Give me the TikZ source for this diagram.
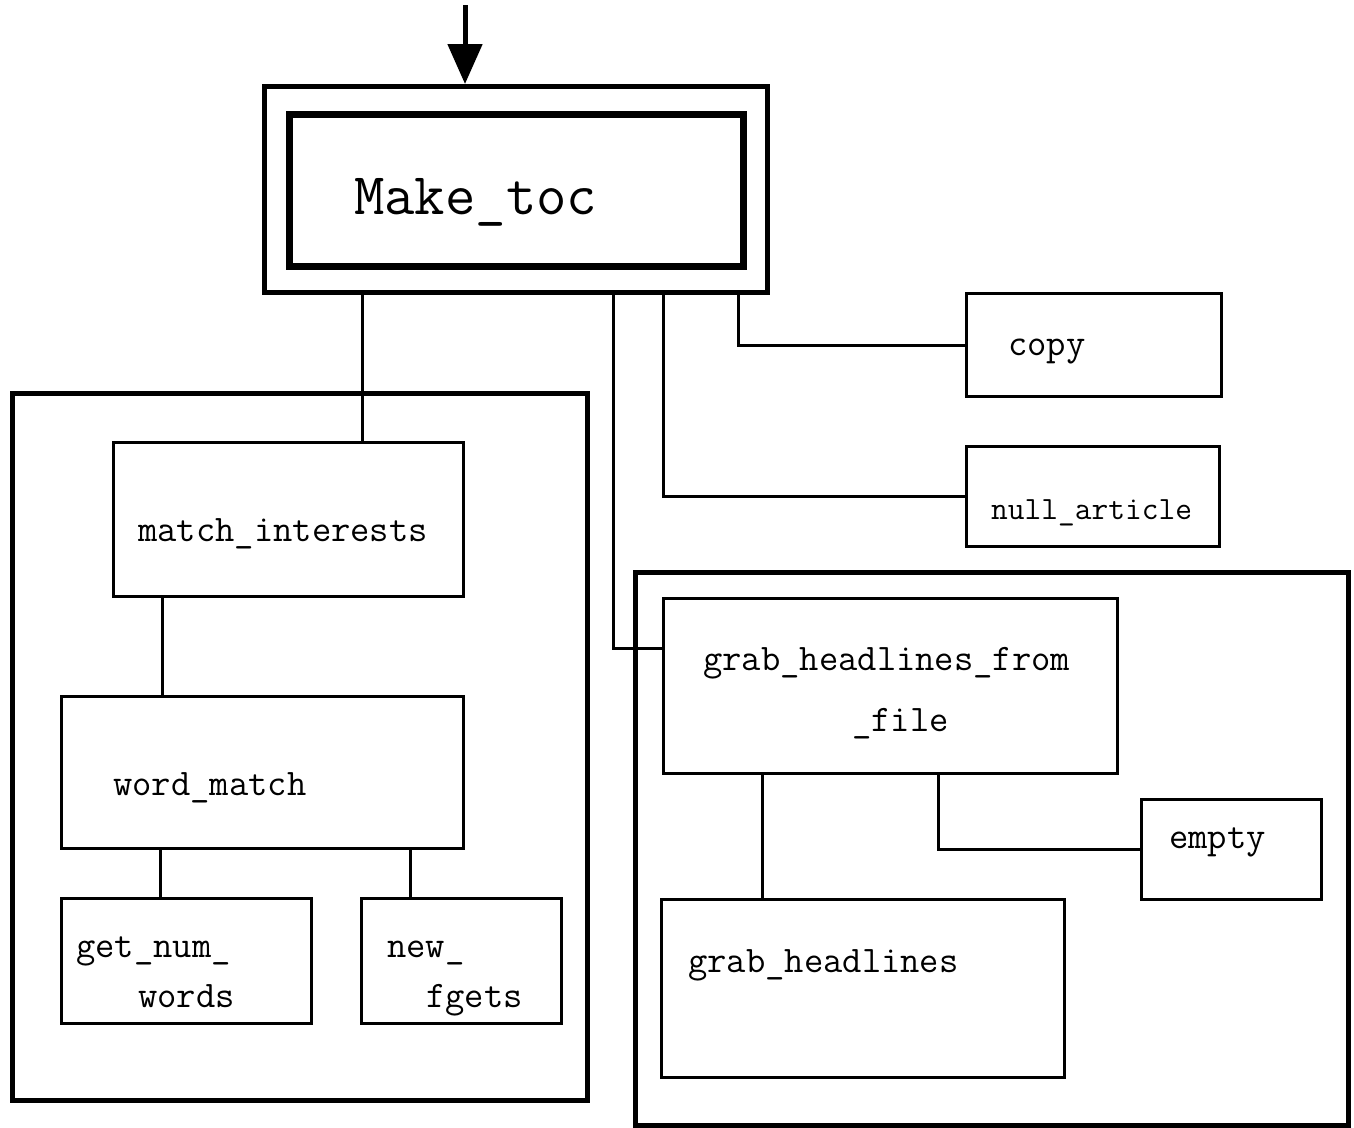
\documentclass[tikz,border=0pt]{standalone}
\usetikzlibrary{arrows.meta,calc}
\tikzset{
  box/.style={draw, line width=3pt, rectangle, inner sep=0pt, anchor=north west},
  bigbox/.style={draw, line width=5pt, rectangle, inner sep=0pt, anchor=north west},
  conn/.style={line width=3pt},
  lbl/.style={inner sep=0pt, anchor=base west, font=\ttfamily\fontsize{37.5}{45}\selectfont},
}
\begin{document}
\begin{tikzpicture}[x=1pt,y=-1pt]
\fill[white] (0,0) rectangle (1354,1127);
\useasboundingbox (0,0) rectangle (1354,1127);
% Make_toc
\node[box, line width=5pt, minimum width=503pt, minimum height=206pt] (mkout) at (262,84) {};
\node[box, line width=7pt, minimum width=454pt, minimum height=152pt] (mkin) at (286,111) {};
\node[lbl, font=\ttfamily\fontsize{59}{70}\selectfont] (tmk) at (354,214) {Make\_toc};
\coordinate (top) at (465,5);
\draw[line width=5pt, -{Triangle[length=40pt,width=34pt]}] (top) -- (top |- mkout.north);
% left group
\node[bigbox, minimum width=575pt, minimum height=707pt] (lbig) at (10,391) {};
\node[box, minimum width=350pt, minimum height=154pt] (mi) at (112,441) {};
\node[lbl] (tmi) at (138,541) {match\_interests};
\node[box, minimum width=402pt, minimum height=152pt] (wm) at (60,695) {};
\node[lbl] (twm) at (113,795) {word\_match};
\node[box, minimum width=250pt, minimum height=125pt] (gn) at (60,897) {};
\node[lbl] (tgn1) at (76,957) {get\_num\_};
\node[lbl] (tgn2) at (138,1007) {words};
\node[box, minimum width=200pt, minimum height=125pt] (nf) at (360,897) {};
\node[lbl] (tnf1) at (387,957) {new\_};
\node[lbl] (tnf2) at (426,1007) {fgets};
% right small
\node[box, minimum width=255pt, minimum height=103pt] (cp) at (965,292) {};
\node[lbl] (tcp) at (1008,355) {copy};
\node[box, minimum width=253pt, minimum height=100pt] (na) at (965,445) {};
\node[lbl, font=\ttfamily\fontsize{32.5}{39}\selectfont] (tna) at (991,519) {null\_article};
% right group
\node[bigbox, minimum width=713pt, minimum height=553pt] (rbig) at (633,570) {};
\node[box, minimum width=454pt, minimum height=175pt] (gh) at (662,597) {};
\node[lbl] (tgh1) at (703,670) {grab\_headlines\_from};
\node[lbl] (tgh2) at (852,731) {\_file};
\node[box, minimum width=180pt, minimum height=100pt] (em) at (1140,798) {};
\node[lbl] (tem) at (1169,848) {empty};
\node[box, minimum width=403pt, minimum height=178pt] (gh2) at (660,898) {};
\node[lbl] (tgh3) at (688,972) {grab\_headlines};
% connector anchor points
\coordinate (c1) at ($(mi.north west)+(250,0)$);
\coordinate (c2) at ($(mi.south west)+(50,0)$);
\coordinate (c3) at ($(gn.north west)+(100,0)$);
\coordinate (c4) at ($(nf.north west)+(50,0)$);
\coordinate (c5) at ($(mkout.south west)+(351,0)$);
\coordinate (c5e) at ($(gh.north west)+(0,51)$);
\coordinate (c6) at ($(mkout.south west)+(401,0)$);
\coordinate (c7) at ($(mkout.south west)+(476,0)$);
\coordinate (c8) at ($(gh.south west)+(100,0)$);
\coordinate (c9) at ($(gh.south west)+(276,0)$);
% connectors
\draw[conn] (c1) -- (c1 |- mkout.south);
\draw[conn] (c2) -- (c2 |- wm.north);
\draw[conn] (c3) -- (c3 |- wm.south);
\draw[conn] (c4) -- (c4 |- wm.south);
\draw[conn] (c5) |- (c5e);
\draw[conn] (c6) |- (na.west);
\draw[conn] (c7) |- (cp.west);
\draw[conn] (c8) -- (c8 |- gh2.north);
\draw[conn] (c9) |- (em.west);
\end{tikzpicture}
\end{document}
